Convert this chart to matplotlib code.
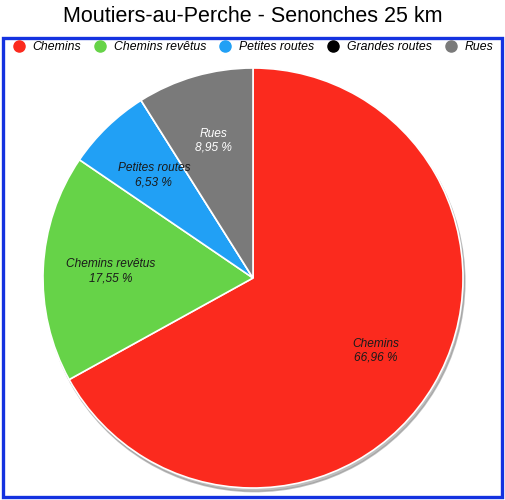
import matplotlib
matplotlib.use("Agg")
import matplotlib.pyplot as plt
from matplotlib.lines import Line2D
from matplotlib.patches import Rectangle

plt.rcParams['font.family'] = ['Liberation Sans', 'DejaVu Sans']

categories = ['Chemins', 'Chemins revêtus', 'Petites routes', 'Grandes routes', 'Rues']
values = [66.96, 17.55, 6.53, 0.0, 8.95]
colors = ['#fb2a1e', '#66d348', '#21a0f5', '#000000', '#7a7a7a']
label_colors = ['#1a1a1a', '#1a1a1a', '#1a1a1a', '#1a1a1a', '#ffffff']
title = 'Moutiers-au-Perche - Senonches 25 km'

fig = plt.figure(figsize=(5.06, 5.00), dpi=100)
fig.patch.set_facecolor('white')

# blue frame around legend + pie
fig.patches.append(Rectangle((3 / 506, 3 / 500), 499 / 506, 459 / 500,
                             transform=fig.transFigure, fill=False,
                             edgecolor='#1432e0', linewidth=2.4))

fig.text(0.5, 1 - 17 / 500, title, ha='center', va='center', fontsize=15.5)

ax = fig.add_axes([(253 - 210) / 506, (500 - 278 - 210) / 500, 420 / 506, 420 / 500])
labels = ['%s\n%s %%' % (c, ('%.2f' % v).replace('.', ',')) if v > 0 else ''
          for c, v in zip(categories, values)]
wedges, texts = ax.pie(values, labels=labels, colors=colors, startangle=90,
                       counterclock=False, labeldistance=0.68,
                       wedgeprops={'edgecolor': 'white', 'linewidth': 1.2},
                       shadow={'ox': 0.006, 'oy': -0.012, 'facecolor': '#8a8a8a',
                               'edgecolor': '#8a8a8a', 'alpha': 0.55},
                       textprops={'fontsize': 8.6, 'style': 'italic'})
for t, c in zip(texts, label_colors):
    t.set_ha('center')
    t.set_va('center')
    t.set_color(c)
    t.set_linespacing(1.2)
ax.set_aspect('equal')
ax.set_xlim(-1, 1)
ax.set_ylim(-1, 1)

handles = [Line2D([], [], marker='o', linestyle='none', markersize=8,
                  markerfacecolor=c, markeredgecolor=c) for c in colors]
leg = fig.legend(handles, categories, loc='center', ncol=5,
                 bbox_to_anchor=(0.5, 1 - 47 / 500), frameon=False,
                 prop={'size': 8.8, 'style': 'italic'}, handletextpad=0.6,
                 columnspacing=1.08, handlelength=1.0)

fig.savefig('out.png', dpi=100, facecolor='white')
